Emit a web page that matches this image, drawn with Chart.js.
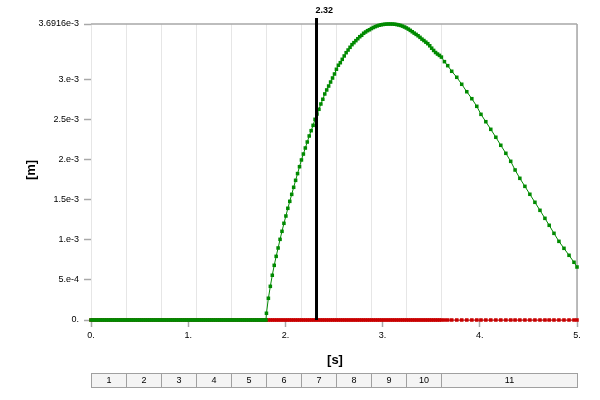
<!DOCTYPE html>
<html>
<head>
<meta charset="utf-8">
<script src="https://cdn.jsdelivr.net/npm/chart.js@4.4.1/dist/chart.umd.min.js"></script>
<style>
  html, body { margin: 0; padding: 0; background: #fff; }
  #wrap { width: 600px; height: 400px; position: relative; }
</style>
</head>
<body>
<div id="wrap"><canvas id="c" width="600" height="400"></canvas></div>
<script>
// ---- time samples [s] ----
const idleTimes = [
  0,0.02,0.04,0.06,0.08,0.1,0.12,0.14,0.16,0.18,
  0.2,0.22,0.24,0.26,0.28,0.3,0.32,0.34,0.36,0.38,
  0.4,0.42,0.44,0.46,0.48,0.5,0.52,0.54,0.56,0.58,
  0.6,0.62,0.64,0.66,0.68,0.7,0.72,0.74,0.76,0.78,
  0.8,0.82,0.84,0.86,0.88,0.9,0.92,0.94,0.96,0.98,
  1.0,1.02,1.04,1.06,1.08,1.1,1.12,1.14,1.16,1.18,
  1.2,1.22,1.24,1.26,1.28,1.3,1.32,1.34,1.36,1.38,
  1.4,1.42,1.44,1.46,1.48,1.5,1.52,1.54,1.56,1.58,
  1.6,1.62,1.64,1.66,1.68,1.7,1.72,1.74,1.76,1.78,
  1.8
];
const riseTimes = [
  1.805,1.825,1.845,1.865,1.885,1.905,1.925,1.945,1.965,1.985,
  2.005,2.025,2.045,2.065,2.085,2.105,2.125,2.145,2.165,2.185,
  2.205,2.225,2.245,2.265,2.285,2.305,2.325,2.345,2.365,2.385,
  2.405,2.425,2.445,2.465,2.485,2.505,2.525,2.545,2.565,2.585,
  2.605,2.625,2.645,2.665,2.685,2.705,2.725,2.745,2.765,2.785,
  2.805,2.825,2.845,2.865,2.885,2.905,2.925,2.945,2.965,2.985,
  3.005,3.025,3.045,3.065,3.085,3.105,3.125,3.145,3.165,3.185,
  3.205,3.225,3.245,3.265,3.285,3.305,3.325,3.345,3.365,3.385,
  3.405,3.425,3.445,3.465,3.485,3.505,3.525,3.545,3.565,3.585,
  3.605
];
const tailTimes = [
  3.636,3.670,3.711,3.763,3.814,3.866,3.918,3.969,4.012,4.062,
  4.113,4.165,4.216,4.268,4.318,4.363,4.412,4.464,4.515,4.567,
  4.619,4.670,4.714,4.763,4.814,4.866,4.918,4.969,5.000
];

// ---- green trace: displacement [1e-3 m] ----
const greenIdle = [
  0,0,0,0,0,0,0,0,0,0, 0,0,0,0,0,0,0,0,0,0,
  0,0,0,0,0,0,0,0,0,0, 0,0,0,0,0,0,0,0,0,0,
  0,0,0,0,0,0,0,0,0,0, 0,0,0,0,0,0,0,0,0,0,
  0,0,0,0,0,0,0,0,0,0, 0,0,0,0,0,0,0,0,0,0,
  0,0,0,0,0,0,0,0,0,0, 0
];
const greenRise = [
  0.084,0.271,0.420,0.558,0.682,0.794,0.898,1.006,1.106,1.206,
  1.297,1.393,1.480,1.567,1.655,1.742,1.826,1.912,1.996,2.070,
  2.145,2.220,2.295,2.361,2.428,2.503,2.569,2.628,2.694,2.753,
  2.819,2.869,2.918,2.968,3.018,3.068,3.127,3.177,3.209,3.251,
  3.293,3.334,3.367,3.401,3.434,3.459,3.484,3.508,3.533,3.551,
  3.576,3.592,3.608,3.620,3.635,3.648,3.659,3.668,3.676,3.682,
  3.686,3.689,3.691,3.6916,3.6916,3.691,3.689,3.685,3.680,3.674,
  3.665,3.654,3.642,3.628,3.612,3.595,3.578,3.562,3.545,3.525,
  3.503,3.485,3.465,3.446,3.420,3.390,3.362,3.336,3.317,3.300,
  3.279
];
const greenTail = [
  3.222,3.172,3.102,3.027,2.940,2.847,2.760,2.665,2.565,2.473,
  2.378,2.279,2.179,2.079,1.979,1.871,1.767,1.667,1.568,1.468,
  1.368,1.268,1.181,1.081,0.981,0.894,0.807,0.720,0.661
];

// ---- red trace [1e-3 m] ----
const redIdle = [
  0,0,0,0,0,0,0,0,0,0, 0,0,0,0,0,0,0,0,0,0,
  0,0,0,0,0,0,0,0,0,0, 0,0,0,0,0,0,0,0,0,0,
  0,0,0,0,0,0,0,0,0,0, 0,0,0,0,0,0,0,0,0,0,
  0,0,0,0,0,0,0,0,0,0, 0,0,0,0,0,0,0,0,0,0,
  0,0,0,0,0,0,0,0,0,0, 0
];
const redRise = [
  0,0,0,0,0,0,0,0,0,0, 0,0,0,0,0,0,0,0,0,0,
  0,0,0,0,0,0,0,0,0,0, 0,0,0,0,0,0,0,0,0,0,
  0,0,0,0,0,0,0,0,0,0, 0,0,0,0,0,0,0,0,0,0,
  0,0,0,0,0,0,0,0,0,0, 0,0,0,0,0,0,0,0,0,0,
  0,0,0,0,0,0,0,0,0,0, 0
];
const redTail = [
  0,0,0,0,0,0,0,0,0,0, 0,0,0,0,0,0,0,0,0,0,
  0,0,0,0,0,0,0,0,0
];

// ---- axes / annotations ----
const xTickValues = [0, 1, 2, 3, 4, 5];
const xTickLabels = ['0.', '1.', '2.', '3.', '4.', '5.'];
const yTickValues = [0, 0.5, 1, 1.5, 2, 2.5, 3, 3.6916];
const yTickLabels = ['0.', '5.e-4', '1.e-3', '1.5e-3', '2.e-3', '2.5e-3', '3.e-3', '3.6916e-3'];
const stepBounds = [0, 0.36, 0.72, 1.08, 1.44, 1.8, 2.16, 2.52, 2.88, 3.24, 3.6, 5];
const stepLabels = ['1','2','3','4','5','6','7','8','9','10','11'];
const cursorTimes = [2.32];
const cursorLabels = ['2.32'];
const xTitle = '[s]';
const yTitle = '[m]';

const times = idleTimes.concat(riseTimes, tailTimes);
const greenVals = greenIdle.concat(greenRise, greenTail);
const redVals = redIdle.concat(redRise, redTail);
const toPts = (vals) => times.map((t, i) => ({ x: t, y: vals[i] }));

const FONT = "'Liberation Sans', Arial, sans-serif";
const GREEN = '#008a00';
const RED = '#c80000';

const decor = {
  id: 'decor',
  beforeDatasetsDraw(chart) {
    const { ctx, chartArea: a, scales: { x } } = chart;
    ctx.save();
    ctx.strokeStyle = '#e6e6e6';
    ctx.lineWidth = 1;
    stepBounds.forEach((b) => {
      const px = Math.round(x.getPixelForValue(b)) + 0.5;
      ctx.beginPath(); ctx.moveTo(px, a.top); ctx.lineTo(px, a.bottom); ctx.stroke();
    });
    ctx.strokeStyle = '#a8a8a8';
    ctx.lineWidth = 1.5;
    ctx.beginPath();
    ctx.moveTo(a.left, a.top); ctx.lineTo(a.right, a.top);
    ctx.moveTo(a.right, a.top); ctx.lineTo(a.right, a.bottom);
    ctx.stroke();
    ctx.restore();
  },
  afterDatasetsDraw(chart) {
    const { ctx, chartArea: a, scales: { x } } = chart;
    ctx.save();
    cursorTimes.forEach((t, i) => {
      const px = x.getPixelForValue(t);
      ctx.strokeStyle = '#000';
      ctx.lineWidth = 3;
      ctx.beginPath(); ctx.moveTo(px, a.top - 6); ctx.lineTo(px, a.bottom); ctx.stroke();
      ctx.fillStyle = '#000';
      ctx.font = 'bold 9px ' + FONT;
      ctx.textAlign = 'left';
      ctx.textBaseline = 'middle';
      ctx.fillText(cursorLabels[i], px - 1, a.top - 13);
    });
    ctx.restore();
  },
  afterDraw(chart) {
    const { ctx, chartArea: a, scales: { x } } = chart;
    ctx.save();
    // axis titles
    ctx.fillStyle = '#000';
    ctx.font = 'bold 13px ' + FONT;
    ctx.textAlign = 'center';
    ctx.textBaseline = 'middle';
    ctx.fillText(xTitle, 335, 360);
    ctx.translate(31, 170);
    ctx.rotate(-Math.PI / 2);
    ctx.fillText(yTitle, 0, 0);
    ctx.setTransform(1, 0, 0, 1, 0, 0);
    // step bar
    const top = 373.5, h = 14;
    ctx.font = '9px ' + FONT;
    for (let i = 0; i < stepLabels.length; i++) {
      const x0 = Math.round(x.getPixelForValue(stepBounds[i])) + 0.5;
      const x1 = Math.round(x.getPixelForValue(stepBounds[i + 1])) + 0.5;
      ctx.fillStyle = '#f4f4f4';
      ctx.fillRect(x0, top, x1 - x0, h);
      ctx.strokeStyle = '#a0a0a0';
      ctx.lineWidth = 1;
      ctx.strokeRect(x0, top, x1 - x0, h);
      ctx.fillStyle = '#000';
      ctx.fillText(stepLabels[i], (x0 + x1) / 2, top + h / 2 + 0.5);
    }
    ctx.restore();
  }
};

new Chart(document.getElementById('c'), {
  type: 'line',
  data: {
    datasets: [
      {
        data: toPts(greenVals),
        borderColor: GREEN, backgroundColor: GREEN,
        borderWidth: 1, pointStyle: 'rect', pointRadius: 2.5,
        pointBorderWidth: 0, pointBackgroundColor: GREEN,
        tension: 0, order: 0, clip: false
      },
      {
        data: toPts(redVals),
        borderColor: RED, backgroundColor: RED,
        borderWidth: 1, pointStyle: 'rect', pointRadius: 2.5,
        pointBorderWidth: 0, pointBackgroundColor: RED,
        tension: 0, order: 1, clip: false
      }
    ]
  },
  options: {
    responsive: false,
    animation: false,
    events: [],
    layout: { padding: { top: 24, right: 23, left: 0, bottom: 0 } },
    plugins: { legend: { display: false }, tooltip: { enabled: false } },
    scales: {
      x: {
        type: 'linear', min: 0, max: 5,
        afterFit: (s) => { s.height = 80; },
        afterBuildTicks: (s) => { s.ticks = xTickValues.map((v) => ({ value: v })); },
        ticks: {
          callback: (v, i) => xTickLabels[i],
          color: '#000', font: { family: FONT, size: 9 }, padding: 3, maxRotation: 0
        },
        grid: { drawOnChartArea: false, drawTicks: true, tickLength: 7, tickColor: '#a8a8a8', tickWidth: 1.5 },
        border: { color: '#a8a8a8', width: 1 }
      },
      y: {
        type: 'linear', min: 0, max: 3.6916,
        afterFit: (s) => { s.width = 91; },
        afterBuildTicks: (s) => { s.ticks = yTickValues.map((v) => ({ value: v })); },
        ticks: {
          callback: (v, i) => yTickLabels[i],
          color: '#000', font: { family: FONT, size: 9 }, padding: 5
        },
        grid: { drawOnChartArea: false, drawTicks: true, tickLength: 7, tickColor: '#a8a8a8', tickWidth: 1.5 },
        border: { color: '#e6e6e6', width: 1 }
      }
    }
  },
  plugins: [decor]
});
</script>
</body>
</html>
